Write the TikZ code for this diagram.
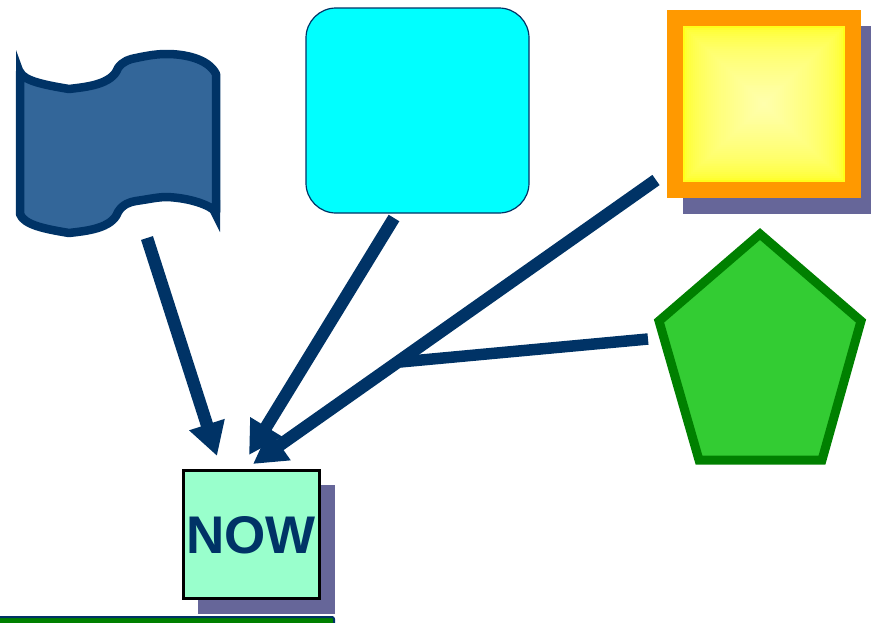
\documentclass[tikz,border=0pt]{standalone}
\usepackage{fontspec}
\setmainfont{Liberation Sans}
\usetikzlibrary{arrows.meta}
\definecolor{navy}{HTML}{003366}
\definecolor{flagblue}{HTML}{336699}
\definecolor{shadowc}{HTML}{666699}
\definecolor{mint}{HTML}{99FFCC}
\definecolor{orangeb}{HTML}{FF9900}
\definecolor{limeg}{HTML}{33CC33}
\definecolor{darkg}{HTML}{008000}
\definecolor{aqua}{HTML}{00FFFF}
\tikzset{
  x=1pt,y=-1pt,
  link/.style={draw=navy,line width=12.5pt,-{Triangle[length=33pt,width=35pt]}},
  branch/.style={draw=navy,line width=11.5pt},
  shadowbox/.style={fill=shadowc},
  boxlabel/.style={font=\fontsize{53}{53}\selectfont\bfseries,text=navy}
}
\begin{document}
\begin{tikzpicture}
\useasboundingbox (0,0) rectangle (871,622);
\clip (0,0) rectangle (871,622);
% flag
\draw[draw=navy,fill=flagblue,line width=8.5pt,line join=round]
  (20,72) .. controls (24,81) and (45,85) .. (69,89)
  .. controls (85,87) and (112,85) .. (118,68)
  .. controls (123,61) and (130,59) .. (136,58)
  .. controls (150,55) and (158,54) .. (167,54)
  .. controls (183,54) and (208,58) .. (216,74)
  -- (216,212)
  .. controls (210,205) and (190,198) .. (167,197)
  .. controls (158,197) and (150,199) .. (136,201)
  .. controls (130,202) and (123,204) .. (118,212)
  .. controls (112,229) and (85,231) .. (69,233)
  .. controls (45,229) and (24,225) .. (20,214)
  -- cycle;
\fill[navy] (16,50) -- (24,72) -- (16,74) -- cycle;
\fill[navy] (220,232) -- (210,212) -- (220,200) -- cycle;
% rounded box
\node[draw=navy,fill=aqua,line width=1.2pt,rounded corners=30pt,minimum width=223pt,minimum height=205pt,inner sep=0pt] (round) at (417.5,110.5) {};
% orange box
\fill[shadowbox] (683,26) rectangle (871,214);
\fill[orangeb] (667,10) rectangle (861,198);
\foreach \i in {0,...,40}{
  \pgfmathsetmacro{\f}{\i/40}
  \pgfmathsetmacro{\bl}{0.10+0.58*(\f^0.5)}
  \definecolor{cur}{rgb}{1,1,\bl}
  \fill[cur] ({683+81*\f},{26+78*\f}) rectangle ({845-81*\f},{182-78*\f});
}
% pentagon
\draw[draw=darkg,fill=limeg,line width=9pt,miter limit=10] (760,234) -- (861,321) -- (822,460) -- (699,460) -- (659,321) -- cycle;
% NOW box
\fill[shadowbox] (198,485) rectangle (335,614);
\node[draw=black,fill=mint,line width=3pt,minimum width=136pt,minimum height=128pt,inner sep=0pt] (now) at (251,534) {};
\node[boxlabel,inner sep=0pt] (nowlabel) at (251,535.5) {NOW};
% bottom bar
\draw[draw=navy,fill=darkg,line width=2pt,rounded corners=2pt] (-5,617) rectangle (334,640);
% connectors
\coordinate (flagout) at (147,238);
\coordinate (flagin) at (217,456);
\coordinate (roundout) at (394,218);
\coordinate (roundin) at (249,455);
\coordinate (sunout) at (656,180);
\coordinate (sunin) at (253,464);
\coordinate (pentout) at (648,339);
\coordinate (join) at (400,362);
\draw[branch] (pentout) -- (join);
\draw[link] (flagout) -- (flagin);
\draw[link] (roundout) -- (roundin);
\draw[link] (sunout) -- (sunin);
\end{tikzpicture}
\end{document}
